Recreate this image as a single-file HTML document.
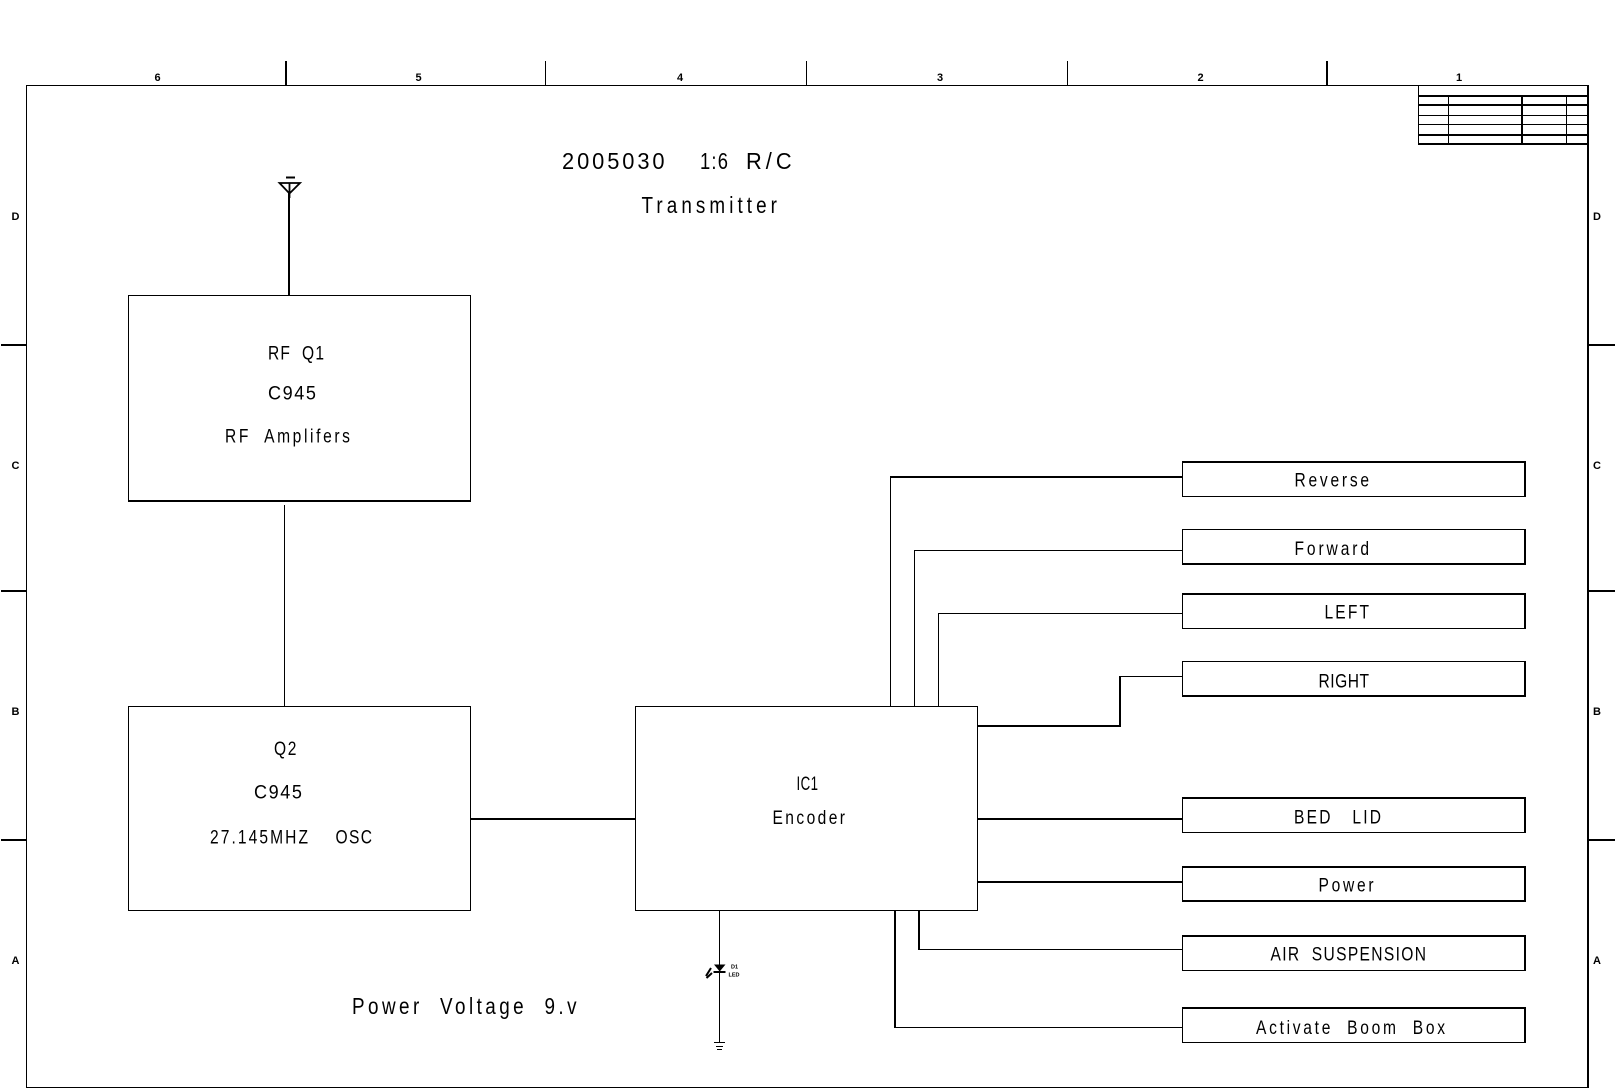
<!DOCTYPE html>
<html><head><meta charset="utf-8"><style>
html,body{margin:0;padding:0;background:#fff}
svg{display:block}
text{font-family:"Liberation Sans",sans-serif;fill:#000;white-space:pre}
.a{font-size:19px}
.b{font-size:23px}
.t{font-size:11px;font-weight:bold;text-anchor:middle}
.m{font-size:5.500px;font-weight:bold}
</style></head><body>
<svg width="1615" height="1088" viewBox="0 0 1615 1088" xmlns="http://www.w3.org/2000/svg">
<rect width="1615" height="1088" fill="#fff"/>
<!-- thin lines -->
<g fill="none" stroke="#000" stroke-width="1" shape-rendering="crispEdges">
<path d="M1588 85.500H26.500V1087.500H1588"/>
<path d="M545.500 61V85M806.500 61V85M1067.500 61V85"/>
<path d="M1418.500 85V144M1418.500 115.500H1588M1418.500 124.500H1588M1448.500 95V144M1566.500 95V144"/>
<path d="M128.500 501V295.500H470.500V501"/>
<rect x="128.500" y="706.500" width="342" height="204"/>
<rect x="635.500" y="706.500" width="342" height="204"/>
<path d="M284.500 505V706"/>
<path d="M1182.500 462V496.500H1525"/>
<path d="M1525 529.500H1182.500V564"/>
<path d="M1182.500 594V628.500H1525"/>
<path d="M1525 661.500H1182.500V696"/>
<path d="M1182.500 798V832.500H1525"/>
<path d="M1182.500 867V901"/>
<path d="M1182.500 936V970.500H1525"/>
<path d="M1182.500 1008V1042.500H1525"/>
<path d="M890.500 706V477"/>
<path d="M914.500 706V550.500H1183"/>
<path d="M938.500 706V613.500H1183"/>
<path d="M1120 676.500H1183"/>
<path d="M919 949.500H1183"/>
<path d="M895 1027.500H1183"/>
<path d="M719.500 911V1042"/>
<path d="M714 1042.500H725M716 1046.500H723M717 1049.500H722"/>
</g>
<!-- thick lines -->
<g fill="none" stroke="#000" stroke-width="2" shape-rendering="crispEdges">
<path d="M1588 85V1088"/>
<path d="M286 61V85M1327 61V85"/>
<path d="M1 345H26M1 591H26M1 840H26M1588 345H1615M1588 591H1615M1588 840H1615"/>
<path d="M1418 96H1588M1418 105H1588M1418 135H1588M1418 144H1588M1522 95V144"/>
<path d="M128 501H471"/>
<path d="M289 193V295"/>
<path d="M1525 461V497M1525 529V565M1525 593V629M1525 661V697M1525 797V833M1525 866V902M1525 935V971M1525 1007V1043"/>
<path d="M1182 462H1526M1182 564H1526M1182 594H1526M1182 696H1526M1182 798H1526M1182 867H1526M1182 901H1526M1182 936H1526M1182 1008H1526"/>
<path d="M890 477H1183"/>
<path d="M978 726H1120V676"/>
<path d="M471 819H636M978 819H1183M978 882H1183"/>
<path d="M919 911V950"/>
<path d="M895 911V1028"/>
</g>
<!-- symbols -->
<path d="M279.500 183H300L289.500 193.500Z M289.500 183V198" fill="none" stroke="#000" stroke-width="1.800"/>
<path d="M286 177.500H295" stroke="#000" stroke-width="2" fill="none"/>
<path d="M714 964.500H725.500L719.700 971.500Z" fill="#000"/>
<path d="M713.500 972H725.500" stroke="#000" stroke-width="2" fill="none"/>
<path d="M711 968L706 976M712 973L706.500 978" stroke="#000" stroke-width="2" fill="none"/>
<text class="m" x="731" y="968.500">D1</text>
<text class="m" x="728.500" y="976.500">LED</text>

<!-- border labels -->
<text class="t" x="157.500" y="81">6</text>
<text class="t" x="418.500" y="81">5</text>
<text class="t" x="680" y="81">4</text>
<text class="t" x="940" y="81">3</text>
<text class="t" x="1200.500" y="81">2</text>
<text class="t" x="1459" y="81">1</text>
<text class="t" x="15.500" y="220">D</text>
<text class="t" x="15.500" y="469">C</text>
<text class="t" x="15.500" y="715">B</text>
<text class="t" x="15.500" y="964">A</text>
<text class="t" x="1597" y="220">D</text>
<text class="t" x="1597" y="469">C</text>
<text class="t" x="1597" y="715">B</text>
<text class="t" x="1597" y="964">A</text>

<!-- titles -->
<text class="b" transform="translate(562 169) scale(.95 1)" textLength="108" lengthAdjust="spacing">2005030</text>
<text class="b" transform="translate(700 169) scale(.8 1)" textLength="35" lengthAdjust="spacing">1:6</text>
<text class="b" transform="translate(746 169) scale(.95 1)" textLength="48.100" lengthAdjust="spacing">R/C</text>
<text class="b" transform="translate(641.500 213) scale(.82 1)" textLength="165.200" lengthAdjust="spacing">Transmitter</text>
<text class="b" transform="translate(352 1014) scale(.82 1)" textLength="273.800" lengthAdjust="spacing" xml:space="preserve">Power  Voltage  9.v</text>

<!-- block text -->
<text class="a" transform="translate(268 359.500) scale(.82 1)" textLength="68.300" lengthAdjust="spacing" xml:space="preserve">RF  Q1</text>
<text class="a" transform="translate(268 399.500) scale(.95 1)" textLength="50.500" lengthAdjust="spacing">C945</text>
<text class="a" transform="translate(225 442.500) scale(.82 1)" textLength="152.400" lengthAdjust="spacing" xml:space="preserve">RF  Amplifers</text>
<text class="a" transform="translate(274 755) scale(.82 1)" textLength="27.400" lengthAdjust="spacing">Q2</text>
<text class="a" transform="translate(254 798.500) scale(.95 1)" textLength="50.500" lengthAdjust="spacing">C945</text>
<text class="a" transform="translate(210 843.500) scale(.82 1)" textLength="119.500" lengthAdjust="spacing">27.145MHZ</text>
<text class="a" transform="translate(335.500 843.500) scale(.82 1)" textLength="44.500" lengthAdjust="spacing">OSC</text>
<text class="a" transform="translate(796.500 790) scale(.7 1)" textLength="30.700" lengthAdjust="spacing">IC1</text>
<text class="a" transform="translate(772.500 824) scale(.82 1)" textLength="88.400" lengthAdjust="spacing">Encoder</text>

<!-- output labels -->
<text class="a" transform="translate(1294.500 486.500) scale(.82 1)" textLength="90.900" lengthAdjust="spacing">Reverse</text>
<text class="a" transform="translate(1294.500 555) scale(.82 1)" textLength="90.900" lengthAdjust="spacing">Forward</text>
<text class="a" transform="translate(1324.500 618.500) scale(.82 1)" textLength="54.300" lengthAdjust="spacing">LEFT</text>
<text class="a" transform="translate(1318.500 687.500) scale(.82 1)" textLength="61.600" lengthAdjust="spacing">RIGHT</text>
<text class="a" transform="translate(1294 823.500) scale(.82 1)" textLength="106.100" lengthAdjust="spacing" xml:space="preserve">BED   LID</text>
<text class="a" transform="translate(1318.500 891.500) scale(.82 1)" textLength="67.100" lengthAdjust="spacing">Power</text>
<text class="a" transform="translate(1270.500 960.500) scale(.82 1)" textLength="189.600" lengthAdjust="spacing" xml:space="preserve">AIR  SUSPENSION</text>
<text class="a" transform="translate(1256 1034) scale(.82 1)" textLength="230.500" lengthAdjust="spacing" xml:space="preserve">Activate  Boom  Box</text>
</svg>
</body></html>
